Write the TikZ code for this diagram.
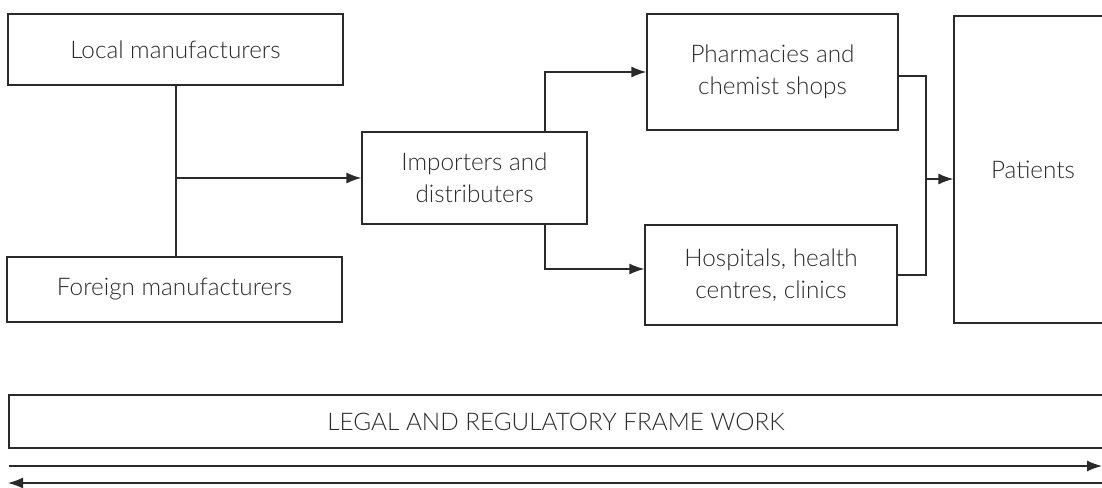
\documentclass[tikz,border=0pt]{standalone}
\usepackage{fontspec}
\setmainfont{Lato}[UprightFont=* Light]
\usetikzlibrary{arrows.meta}
\definecolor{ink}{HTML}{2A2A2A}
\tikzset{
  box/.style={draw=ink, line width=1.3pt, text=ink, align=center, inner sep=0pt,
    font=\fontsize{24.3}{32}\selectfont},
  conn/.style={draw=ink, line width=1.3pt},
  arr/.style={conn, -{Latex[length=15pt,width=11pt]}}
}
\begin{document}
\begin{tikzpicture}[x=1pt,y=-1pt]
\useasboundingbox (0,0) rectangle (1102,487);
\node[box, minimum width=335pt, minimum height=71pt] (local) at (175.5,49.5) {Local manufacturers};
\node[box, minimum width=335pt, minimum height=65pt] (foreign) at (174.5,289.5) {Foreign manufacturers};
\node[box, minimum width=225pt, minimum height=92pt] (imp) at (474.5,178) {Importers and\\distributers};
\node[box, minimum width=251pt, minimum height=116pt] (pharm) at (772.5,72) {Pharmacies and\\chemist shops};
\node[box, minimum width=252pt, minimum height=100pt] (hosp) at (771,275) {Hospitals, health\\centres, clinics};
\node[box, minimum width=158pt, minimum height=307pt] (pat) at (1033,169.5) {Patients};
\node[box, minimum width=1094pt, minimum height=53pt] (legal) at (556,421.5) {LEGAL AND REGULATORY FRAME WORK};
\coordinate (bx) at (545,0);
\coordinate (mx) at (926,0);
\coordinate (al) at (9,466);
\coordinate (ar) at (1102,466);
\coordinate (bl) at (8,483);
\coordinate (br) at (1102,483);
\draw[conn] (local.south -| 176,0) -- (foreign.north -| 176,0);
\draw[arr] (imp.west -| 176,0) -- (imp.west);
\draw[arr] (imp.north -| bx) |- (pharm.west);
\draw[arr] (imp.south -| bx) |- ([yshift=6pt]hosp.west);
\draw[conn] ([yshift=-4pt]pharm.east) -| (mx |- hosp.east) -- (hosp.east);
\draw[arr] (mx |- 0,179) -- ([yshift=-9.5pt]pat.west);
\draw[arr] (al) -- (ar);
\draw[arr] (br) -- (bl);
\end{tikzpicture}
\end{document}
